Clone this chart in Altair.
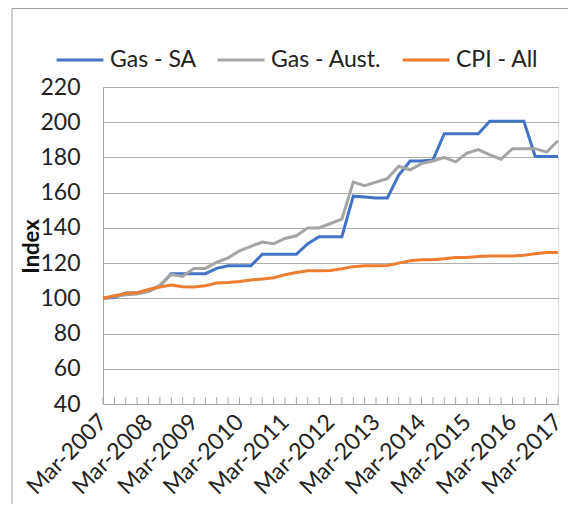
import altair as alt
import pandas as pd

years = list(range(2007, 2018))
months = ["Mar", "Jun", "Sep", "Dec"]
quarters = [f"{m}-{y}" for y in years for m in months][:41]

gas_sa = [100, 100.5, 103, 103, 104, 107, 114, 114, 114, 114,
          117, 118.5, 118.5, 118.5, 125, 125, 125, 125, 131, 135,
          135, 135, 158, 157.5, 157, 157, 170, 178, 178, 178.5,
          193.5, 193.5, 193.5, 193.5, 200.5, 200.5, 200.5, 200.5, 180.5, 180.5,
          180.5]
gas_aus = [100, 101, 102, 102.5, 104, 107.5, 113.5, 112.5, 117, 117,
           120.5, 123, 127, 129.5, 132, 131, 134, 135.5, 140, 140,
           142.5, 145, 166, 164, 166, 168, 175, 173, 176.5, 178,
           180, 177.5, 182.5, 184.5, 181.5, 179, 185, 185, 185, 183,
           189.5]
cpi = [100, 101.5, 102.8, 103.2, 105, 106.4, 107.5, 106.6, 106.4, 107.2,
       108.7, 109, 109.6, 110.4, 111, 111.7, 113.4, 114.7, 115.6, 115.6,
       115.8, 116.8, 118, 118.5, 118.5, 118.7, 120, 121.3, 121.9, 121.9,
       122.5, 123.2, 123.2, 123.8, 124, 124, 124, 124.5, 125.3, 126,
       126]

series_names = ["Gas - SA", "Gas - Aust.", "CPI - All"]
series_colors = ["#4472C4", "#A5A5A5", "#ED7D31"]
y_ticks = list(range(40, 221, 20))

rows = []
for name, vals in zip(series_names, [gas_sa, gas_aus, cpi]):
    for q, v in zip(quarters, vals):
        rows.append({"Quarter": q, "Series": name, "Value": v})
df = pd.DataFrame(rows)
ticks_df = pd.DataFrame({"Quarter": quarters})

W, H = 455, 317
FONT = "Lato"

x_enc = alt.X("Quarter:O", sort=quarters,
              scale=alt.Scale(type="point", padding=0),
              axis=alt.Axis(title=None, labelAngle=-45, labelAlign="right",
                            labelBaseline="middle", labelPadding=14,
                            labelFontSize=23, labelFont=FONT, labelColor="#222",
                            ticks=False, domainColor="#a6a6a6", domainWidth=1,
                            grid=False, labelOverlap=False, labelBound=False,
                            labelExpr="indexof(datum.label, 'Mar') == 0 ? datum.label : ''"))

lines = alt.Chart(df).mark_line(strokeWidth=3).encode(
    x=x_enc,
    y=alt.Y("Value:Q",
            scale=alt.Scale(domain=[40, 220], nice=False, zero=False),
            axis=alt.Axis(values=y_ticks, title="Index", titleFont=FONT,
                          titleFontSize=22, titleFontWeight="bold", titleColor="#111",
                          titleAngle=-90, titleX=-60, titleY=159, titleAlign="center",
                          titleBaseline="bottom",
                          labelFontSize=23, labelFont=FONT, labelColor="#222",
                          labelPadding=23, ticks=False,
                          gridColor="#b0b0b0", gridWidth=1,
                          domainColor="#a6a6a6")),
    color=alt.Color("Series:N",
                    scale=alt.Scale(domain=series_names, range=series_colors),
                    legend=alt.Legend(title=None, orient="none", direction="horizontal",
                                      legendX=-48, legendY=-52,
                                      symbolType="stroke", symbolSize=2200,
                                      symbolStrokeWidth=3, labelOffset=5,
                                      columnPadding=14, labelFontSize=23,
                                      labelFont=FONT, labelColor="#222")),
)

tick_marks = alt.Chart(ticks_df).mark_rule(color="#a6a6a6", strokeWidth=1).encode(
    x=alt.X("Quarter:O", sort=quarters),
    y=alt.value(H - 7),
    y2=alt.value(H),
)

frame_left = alt.Chart(ticks_df.head(1)).mark_rule(color="#a0a0a0", strokeWidth=1).encode(
    x=alt.value(-91), y=alt.value(-78.5), y2=alt.value(H + 120))
frame_top = alt.Chart(ticks_df.head(1)).mark_rule(color="#a0a0a0", strokeWidth=1).encode(
    x=alt.value(-91), x2=alt.value(W + 30), y=alt.value(-78.5))

chart = alt.layer(tick_marks, lines, frame_left, frame_top).properties(
    width=W, height=H,
    autosize=alt.AutoSizeParams(type="none"),
    padding={"left": 95, "top": 79, "right": 10, "bottom": 100},
).configure_view(stroke=None).configure(background="white")

chart.save("out.html", embed_options={"renderer": "svg", "actions": False})
